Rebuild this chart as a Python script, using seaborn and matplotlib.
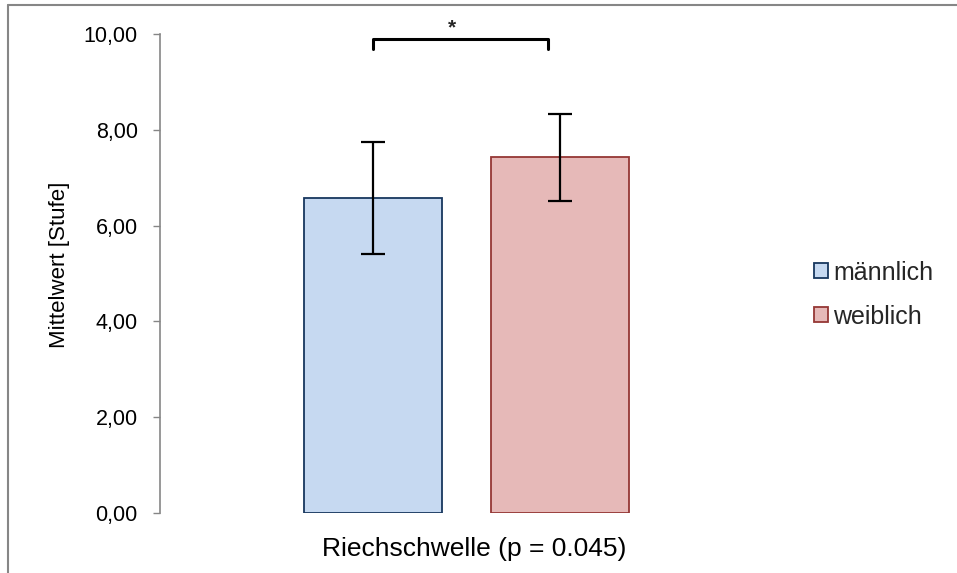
import matplotlib
matplotlib.use("Agg")
import matplotlib.pyplot as plt
from matplotlib.lines import Line2D
from matplotlib.patches import Patch
import seaborn as sns
import pandas as pd

categories = ["Riechschwelle (p = 0.045)"]
groups = ["männlich", "weiblich"]
means = [6.57, 7.43]
errors = [1.17, 0.91]
yticks = [0, 2, 4, 6, 8, 10]
ytick_labels = ["0,00", "2,00", "4,00", "6,00", "8,00", "10,00"]

fills = ["#C6D9F1", "#E6B9B8"]
edges = ["#17375E", "#953735"]

sns.set_theme(style="white")
plt.rcParams["font.family"] = ["Liberation Sans", "DejaVu Sans"]

df = pd.DataFrame({"cat": categories * 2, "sex": groups, "val": means})

fig = plt.figure(figsize=(9.57, 5.73), dpi=100)
ax = fig.add_axes([160 / 957, 1 - 513 / 573, (773 - 160) / 957, (513 - 34) / 573])

sns.barplot(data=df, x="cat", y="val", hue="sex", hue_order=groups,
            palette=fills, saturation=1, width=0.61, gap=0.262, errorbar=None,
            legend=False, ax=ax)

for patch, ec, m, e in zip(ax.patches, edges, means, errors):
    patch.set_edgecolor(ec)
    patch.set_linewidth(1.3)
    cx = patch.get_x() + patch.get_width() / 2
    ax.errorbar(cx, m, yerr=e, fmt="none", ecolor="black", elinewidth=1.6,
                capsize=8.5, capthick=1.6, zorder=5)

ax.set_xlim(-0.5, 0.5)
ax.set_ylim(0, 10)
ax.set_yticks(yticks)
ax.set_yticklabels(ytick_labels, fontsize=15.5)
ax.tick_params(axis="y", length=5, width=1, color="#868686", direction="out",
               pad=11, left=True, labelcolor="black")
ax.tick_params(axis="x", length=0)
ax.set_xticks([])
ax.set_xlabel(categories[0], fontsize=19, color="black")
ax.xaxis.set_label_coords((474 - 160) / 613, -24 / 479)
ax.set_ylabel("Mittelwert [Stufe]", fontsize=16, color="black")
ax.yaxis.set_label_coords((70 - 160) / 613, (513 - 265) / 479)
for s in ["top", "right", "bottom"]:
    ax.spines[s].set_visible(False)
ax.spines["left"].set_color("#868686")
ax.spines["left"].set_linewidth(1.2)

# significance bracket
b0 = ax.patches[0]
b1 = ax.patches[1]
x0 = b0.get_x() + b0.get_width() / 2
x1 = b1.get_x() + b1.get_width() / 2 - 0.02
ax.plot([x0, x0, x1, x1], [9.69, 9.9, 9.9, 9.69], color="black", lw=2.2,
        clip_on=False, solid_joinstyle="round")
ax.text((x0 + x1) / 2 - 0.014, 9.92, "*", ha="center", va="bottom", fontsize=15,
        fontweight="bold", clip_on=False)

handles = [Patch(facecolor=f, edgecolor=e, linewidth=1.3) for f, e in zip(fills, edges)]
fig.legend(handles, groups, loc="center left", bbox_to_anchor=(814 / 957, 1 - 294.5 / 573),
           frameon=False, fontsize=18, handlelength=0.56, handleheight=0.56,
           handletextpad=0.2, labelspacing=0.8, borderpad=0, borderaxespad=0)

# chart border
fig.add_artist(Line2D([8 / 957, 8 / 957], [0, 1 - 5 / 573], color="#868686", lw=1.5))
fig.add_artist(Line2D([8 / 957, 1], [1 - 5 / 573, 1 - 5 / 573], color="#868686", lw=1.5))

fig.savefig("out.png", dpi=100)
